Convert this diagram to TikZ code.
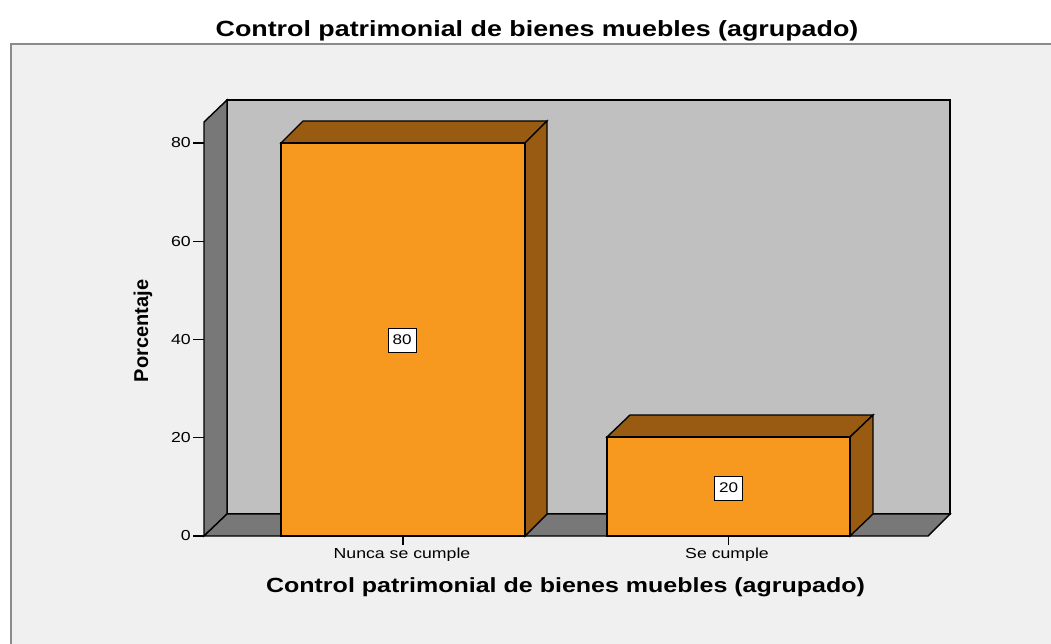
\documentclass[tikz,border=0pt]{standalone}
\usepackage{fontspec}
\newfontfamily\chartfont[FakeStretch=1.22]{Liberation Sans}
\newfontfamily\plainfont{Liberation Sans}
\definecolor{framebg}{HTML}{F0F0F0}
\definecolor{framegray}{HTML}{8A8A8A}
\definecolor{wallback}{HTML}{C0C0C0}
\definecolor{wallside}{HTML}{787878}
\definecolor{barfront}{HTML}{F8991F}
\definecolor{barside}{HTML}{995A12}
\begin{document}
\begin{tikzpicture}[x=1pt,y=-1pt,
  edge/.style={draw=black,line width=1.4pt,line join=miter},
  ticklab/.style={font=\chartfont\fontsize{14.5}{16}\selectfont,anchor=east,inner sep=0pt},
  catlab/.style={font=\chartfont\fontsize{14.5}{16}\selectfont,anchor=base,inner sep=0pt},
  vallab/.style={draw=black,line width=1pt,fill=white,font=\chartfont\fontsize{14}{16}\selectfont,minimum width=28pt,minimum height=24pt,inner sep=0pt},
  tickline/.style={draw=black,line width=1.3pt}]
\useasboundingbox (0,0) rectangle (1051,644);
\clip (0,0) rectangle (1051,644);
\fill[white] (0,0) rectangle (1051,644);
% outer frame
\draw[framegray,line width=1.6pt,fill=framebg] (11,660) -- (11,44) -- (1070,44) -- (1070,660) -- cycle;
% title
\node[font=\chartfont\bfseries\fontsize{22}{26}\selectfont,anchor=base,inner sep=0pt] (title) at (537,37) {Control patrimonial de bienes muebles (agrupado)};
% back wall
\draw[edge,fill=wallback] (227,100) rectangle (950,514);
% left wall
\draw[edge,fill=wallside] (204,122) -- (227,100) -- (227,514) -- (204,536) -- cycle;
% floor
\draw[edge,fill=wallside] (204,536) -- (227,514) -- (950,514) -- (928,536) -- cycle;
% y ticks
\foreach \v/\yy in {0/536,20/437.75,40/339.5,60/241.25,80/143}{
  \coordinate (ta\v) at (193,\yy);
  \coordinate (tb\v) at (204,\yy);
  \draw[tickline] (ta\v) -- (tb\v);
  \node[ticklab] (yl\v) at (191,\yy) {\v};
}
% bar 1
\draw[edge,fill=barside] (281,143) -- (303,121) -- (547,121) -- (525,143) -- cycle;
\draw[edge,fill=barside] (525,143) -- (547,121) -- (547,514) -- (525,536) -- cycle;
\draw[edge,fill=barfront] (281,143) rectangle (525,536);
% bar 2
\draw[edge,fill=barside] (607,437) -- (630,415) -- (873,415) -- (850,437) -- cycle;
\draw[edge,fill=barside] (850,437) -- (873,415) -- (873,514) -- (850,536) -- cycle;
\draw[edge,fill=barfront] (607,437) rectangle (850,536);
% value labels
\node[vallab] (v80) at (402,340) {80};
\node[vallab] (v20) at (728.5,488) {20};
% x ticks and category labels
\coordinate (xa1) at (403,536); \coordinate (xb1) at (403,545);
\coordinate (xa2) at (728.5,536); \coordinate (xb2) at (728.5,545);
\draw[tickline] (xa1) -- (xb1);
\draw[tickline] (xa2) -- (xb2);
\node[catlab] (c1) at (402,558) {Nunca se cumple};
\node[catlab] (c2) at (727,558) {Se cumple};
% axis titles
\node[font=\chartfont\bfseries\fontsize{20.5}{24}\selectfont,anchor=base,inner sep=0pt] (xtitle) at (565.5,592) {Control patrimonial de bienes muebles (agrupado)};
\node[font=\plainfont\bfseries\fontsize{20}{24}\selectfont,rotate=90,inner sep=0pt] (ytitle) at (143,331) {Porcentaje};
\end{tikzpicture}
\end{document}
